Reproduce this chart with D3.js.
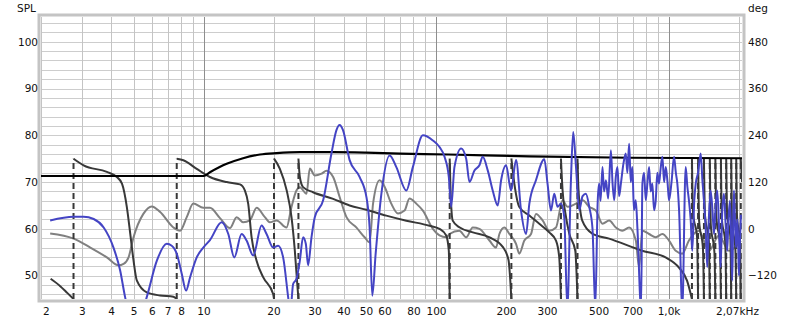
<!DOCTYPE html>
<html>
<head>
<meta charset="utf-8">
<script src="https://cdn.jsdelivr.net/npm/d3@7"></script>
<style>
body { margin: 0; background: #fff; }
svg text { font-family: "DejaVu Sans", sans-serif; font-size: 10.5px; fill: #111; }
</style>
</head>
<body>
<svg id="chart" width="800" height="322"></svg>
<script>
// -- data: [frequency Hz, value] -- //
let targetSpl = [[2, 71.3], [10, 71.3], [10.66, 72.1], [12.58, 73.9], [14.8, 75.1], [17.5, 75.9], [20.6, 76.2],
    [26, 76.4], [36, 76.4], [50, 76.3], [70, 76.1], [113, 75.9], [252, 75.5], [677, 75.2], [2070, 75.1]];

let measuredSpl = [[2.19, 61.8], [2.76, 62.6], [3.05, 62.6], [3.37, 62.1], [3.72, 60.3], [4.10, 56.0], [4.38, 51.1],
    [4.60, 45.4], [5.1, 38], [5.70, 45.4], [6.30, 53.2], [6.95, 56.8], [7.30, 56.4], [7.67, 54.7], [8.06, 50.4],
    [8.41, 46.8], [8.75, 49.6], [9.35, 53.9], [9.98, 56.0], [10.66, 57.6], [11.97, 61.4], [12.78, 58.9], [13.56, 53.9],
    [14.58, 58.9], [15.32, 57.5], [16.36, 54.3], [17.77, 60.7], [18.67, 58.9], [19.93, 56.0], [20.94, 56.4],
    [22.0, 53.9], [23.12, 45.4], [23.6, 42], [24.29, 48.2], [25.1, 49.3], [25.96, 53.2], [26.8, 58.2], [27.54, 56.8],
    [28.17, 52.2], [29.13, 58.2], [30.1, 62.5], [32.7, 66.1], [35.5, 76.1], [37.3, 81.1], [38.5, 82.2], [39.8, 81.1],
    [42.5, 74.7], [46.9, 71.1], [50.2, 66.8], [51.8, 60.3], [53.2, 45.7], [55.0, 54.7], [58.2, 67.5], [63.2, 75.7],
    [67.5, 73.2], [74.5, 68.2], [79.5, 73.2], [87.8, 80.0], [96.9, 78.9], [103.5, 77.5], [108.8, 75.4], [113.5, 71.1],
    [116.2, 64.7], [120, 73.2], [128.3, 77.2], [134.8, 75.0], [139.3, 70.0], [146.3, 72.5], [153.7, 73.6],
    [158.8, 75.4], [166.9, 72.5], [175.3, 68.2], [184.2, 65.0], [190.5, 70.4], [200.1, 73.6], [210.2, 68.2],
    [220.9, 74.7], [232.1, 63.9], [243.9, 58.9], [252, 65.4], [269, 70.4], [292.2, 74.9], [301.8, 69.6],
    [312.1, 63.9], [322.5, 67.5], [333.2, 64.7], [344.6, 65.4], [356, 62.5], [367, 43], [380, 69.7], [389, 80.7],
    [400, 73.2], [413, 64], [427, 67], [441, 67.5], [456, 64.7], [471, 60], [484, 43], [496, 66], [503, 69.7],
    [510, 66], [520, 73.2], [528, 68], [538, 70.4], [550, 66.5], [565, 76.8], [574, 70], [584, 66.1], [593, 71],
    [603, 73.2], [613, 67], [624, 69.7], [640, 74], [655, 76.1], [665, 72], [677, 78.2], [688, 70], [699, 73.2],
    [710, 64], [723, 66.1], [735, 60], [762, 43], [772, 69.7], [785, 72], [798, 66.1], [812, 70], [825, 73.2],
    [838, 68], [852, 69.7], [866, 64], [881, 66.1], [895, 72], [910, 69.7], [925, 73], [941, 75.4], [957, 70],
    [973, 73.2], [990, 70], [1005, 66.1], [1030, 70], [1056, 75.4], [1075, 72], [1091, 69.7], [1110, 64],
    [1146, 43], [1185, 73.2], [1205, 69], [1224, 66.1], [1245, 62], [1265, 55.3], [1290, 66], [1309, 69.7],
    [1340, 72], [1375, 76.1], [1400, 70], [1420, 66.1], [1445, 60], [1467, 51.8], [1490, 62], [1517, 68.2],
    [1545, 64], [1568, 58.9], [1595, 65], [1620, 68.2], [1650, 60], [1675, 51.8], [1700, 63], [1731, 67.5],
    [1760, 61], [1788, 55.3], [1810, 62], [1837, 66], [1860, 58], [1879, 48.9], [1895, 60], [1911, 68.2],
    [1930, 62], [1950, 56], [1965, 60], [1978, 62], [1993, 57], [2008, 50], [2030, 58], [2048, 63]];

let secondSpl = [[2.19, 59.0], [2.76, 57.9], [3.26, 56.0], [3.84, 53.9], [4.31, 52.2], [4.53, 52.5], [4.76, 53.9],
    [5.0, 58.2], [5.51, 63.2], [5.99, 64.8], [6.51, 63.6], [7.42, 60.3], [7.93, 59.6], [8.47, 62.5], [9.04, 65.4],
    [9.98, 64.5], [10.66, 64.5], [11.77, 62.3], [13.0, 60.2], [13.88, 62.5], [14.82, 61.4], [15.83, 61.8],
    [16.92, 64.5], [18.36, 62.5], [19.29, 61.4], [20.62, 61.8], [22.76, 60.3], [23.9, 64.7], [25.1, 68.2],
    [25.96, 68.9], [27.73, 67.5], [28.65, 72.9], [30.1, 71.4], [32.2, 71.8], [33.8, 72.4], [36.1, 71.1],
    [38.5, 66.8], [41.2, 62.5], [45.4, 60.3], [49.3, 58.2], [51.8, 57.1], [53.6, 65.4], [57.2, 70.4], [60.1, 69.0],
    [64.2, 65.4], [68.6, 63.3], [73.2, 63.9], [76.9, 66.5], [82.2, 65.4], [87.8, 63.9], [96.9, 60.0], [103.5, 58.6],
    [110.6, 58.2], [114.3, 58.9], [126, 59.6], [134.8, 58.2], [143.9, 60.3], [153.7, 60.0], [169.7, 57.5],
    [181.3, 56.0], [187.3, 58.9], [196.8, 60.3], [206.8, 58.9], [220.9, 56.8], [228.2, 54.7], [239.8, 57.5],
    [256.2, 58.9], [269, 63.2], [287.3, 61.8], [306.9, 59.6], [328.1, 60.3], [350.1, 66.1], [367.9, 64.7],
    [399.6, 65.4], [427.3, 66.1], [455.9, 64.7], [487.1, 63.9], [519.8, 61.1], [555.3, 61.8], [593.3, 60.3],
    [633.4, 59.6], [677, 60.3], [723.3, 57.5], [747, 51.8], [772, 59.6], [824.8, 58.9], [881.2, 58.2],
    [940.6, 58.9], [1005, 57.5], [1074, 55.3], [1146, 54.7], [1224, 57.5], [1352, 59.6], [1492, 55.3],
    [1647, 58.6], [1818, 55.3], [2048, 57.5]];

let phaseDeg = [[2.2, -128], [2.42, -147], [2.6, -165], [2.76, -180], [2.76, 180], [3.05, 163], [3.84, 146],
    [4.24, 133], [4.46, 116], [4.68, 56], [4.84, -12], [5.0, -81], [5.17, -133], [5.7, -163], [6.5, -171],
    [7.42, -174], [7.67, -180], [7.67, 180], [8.19, 176], [9.35, 154], [10.66, 133], [12.58, 120], [14.35, 114],
    [15.07, 98], [15.57, 64], [16.1, -22], [16.9, -81], [18.05, -124], [19.93, -167], [20.1, -180], [20.1, 180],
    [21.3, 154], [22.8, 98], [23.9, 30], [24.7, -56], [25.3, -141], [25.6, -180], [25.6, 180], [25.96, 133],
    [26.8, 107], [29.6, 94], [36.1, 77], [42.5, 60], [50.2, 49], [61.1, 34], [74.5, 21], [93.8, 8], [103.5, 0],
    [110.6, -17], [113.5, -56], [114.5, -180], [114.5, 180], [115.3, 110], [116.2, 60], [118, 21], [126, 4],
    [144, -9], [170, -22], [194, -47], [205, -80], [208, -120], [210.9, -180], [210.9, 180], [217.2, 116],
    [228.2, 56], [252, 34], [278.1, 13], [306.9, -9], [328.1, -30], [338.8, -73], [344.6, -180], [344.6, 180],
    [350, 100], [360, 40], [374, -12], [397, -56], [406, -180], [406, 180], [410, 100], [425.6, 21], [469.6, -12],
    [555, -25], [769.5, -56], [975.7, -74], [1109, -99.5], [1201, -133], [1261, -180],
    [1261, 180], [1275, 40], [1326, -20], [1340, -180],
    [1340, 180], [1354, 20], [1406, -50], [1420, -180],
    [1420, 180], [1435, 35], [1490, -30], [1505, -180],
    [1505, 180], [1520, 10], [1575, -60], [1590, -180],
    [1590, 180], [1606, 30], [1664, -40], [1680, -180],
    [1680, 180], [1696, 25], [1754, -35], [1770, -180],
    [1770, 180], [1786, 40], [1844, -20], [1860, -180],
    [1860, 180], [1877, 15], [1938, -50], [1955, -180],
    [1955, 180], [1971, 30], [2029, -30], [2045, -180],
    [2045, 180], [2070, 120]];

let xTickValues = [2, 3, 4, 5, 6, 7, 8, 10, 20, 30, 40, 50, 60, 80, 100, 200, 300, 500, 700, 1000, 2070];
let xTickLabels = ["2", "3", "4", "5", "6", "7", "8", "10", "20", "30", "40", "50", "60", "80", "100", "200",
    "300", "500", "700", "1,0k", "2,07kHz"];
let splTicks = [50, 60, 70, 80, 90, 100];
let degTicks = [-120, 0, 120, 240, 360, 480];
let xGridValues = [2, 3, 4, 5, 6, 7, 8, 9, 20, 30, 40, 50, 60, 70, 80, 90, 200, 300, 400, 500, 600, 700, 800, 900, 2000];
let xDecades = [10, 100, 1000];

// -- layout -- //
let plotLeft = 41, plotRight = 742, plotTop = 17, plotBottom = 299;
let svg = d3.select("#chart");

let xScale = d3.scaleLog().domain([2, 2070]).range([plotLeft, plotRight]);
let yScale = d3.scaleLinear().domain([45, 105.3]).range([plotBottom, plotTop]);
let degScale = d3.scaleLinear().domain([-180, 543.6]).range([plotBottom, plotTop]);

svg.append("rect").attr("width", 800).attr("height", 322).attr("fill", "#fff");

// -- plot frame with shadow -- //
svg.append("rect")
    .attr("x", plotLeft - 2).attr("y", plotTop - 2)
    .attr("width", plotRight - plotLeft + 4).attr("height", plotBottom - plotTop + 4)
    .attr("fill", "none").attr("stroke", "#c4c4c4").attr("stroke-width", 3);
svg.append("rect")
    .attr("x", plotLeft).attr("y", plotTop)
    .attr("width", plotRight - plotLeft).attr("height", plotBottom - plotTop)
    .attr("fill", "#fff");

// -- grid -- //
let grid = svg.append("g");
grid.selectAll(".hgrid")
    .data(d3.range(46, 105, 2))
    .enter().append("line")
    .attr("x1", plotLeft).attr("x2", plotRight)
    .attr("y1", d => Math.round(yScale(d)) + 0.5).attr("y2", d => Math.round(yScale(d)) + 0.5)
    .style("stroke", "#cdcdcd").style("stroke-width", 1);
grid.selectAll(".vgrid")
    .data(xGridValues)
    .enter().append("line")
    .attr("x1", d => Math.round(xScale(d)) + 0.5).attr("x2", d => Math.round(xScale(d)) + 0.5)
    .attr("y1", plotTop).attr("y2", plotBottom)
    .style("stroke", "#c4c4c4").style("stroke-width", 1);
grid.selectAll(".dgrid")
    .data(xDecades)
    .enter().append("line")
    .attr("x1", d => Math.round(xScale(d)) + 0.5).attr("x2", d => Math.round(xScale(d)) + 0.5)
    .attr("y1", plotTop).attr("y2", plotBottom)
    .style("stroke", "#8e8e8e").style("stroke-width", 1);

// -- curves -- //
svg.append("clipPath").attr("id", "clip")
    .append("rect").attr("x", plotLeft).attr("y", plotTop)
    .attr("width", plotRight - plotLeft).attr("height", plotBottom - plotTop);
let plot = svg.append("g").attr("clip-path", "url(#clip)");

let splLine = d3.line()
    .x(d => xScale(d[0]))
    .y(d => yScale(d[1]))
    .curve(d3.curveMonotoneX);
let phaseLine = d3.line()
    .x(d => xScale(d[0]))
    .y(d => degScale(d[1]))
    .curve(d3.curveMonotoneX);

// split the wrapped phase where it jumps from -180 to +180
let phaseSegments = [[]];
let wrapLines = [];
phaseDeg.forEach((d, i) => {
    if (i > 0 && Math.abs(d[1] - phaseDeg[i - 1][1]) > 300) {
        wrapLines.push([phaseDeg[i - 1], d]);
        phaseSegments.push([]);
    }
    phaseSegments[phaseSegments.length - 1].push(d);
});

plot.append("path")
    .datum(secondSpl)
    .attr("d", splLine)
    .style("fill", "none").style("stroke", "#808080").style("stroke-width", 2);

plot.selectAll(".phase")
    .data(phaseSegments)
    .enter().append("path")
    .attr("d", phaseLine)
    .style("fill", "none").style("stroke", "#383838").style("stroke-width", 2);

plot.selectAll(".wrap")
    .data(wrapLines)
    .enter().append("line")
    .attr("x1", d => xScale(d[0][0])).attr("x2", d => xScale(d[1][0]))
    .attr("y1", d => degScale(d[0][1])).attr("y2", d => degScale(d[1][1]))
    .style("stroke", "#383838").style("stroke-width", 2).style("stroke-dasharray", "6,4");

plot.append("path")
    .datum(targetSpl)
    .attr("d", splLine)
    .style("fill", "none").style("stroke", "#000").style("stroke-width", 2.2);

plot.append("path")
    .datum(measuredSpl)
    .attr("d", splLine)
    .style("fill", "none").style("stroke", "#4444c4").style("stroke-width", 2);

// -- axes -- //
let xAxis = d3.axisBottom(xScale)
    .tickValues(xTickValues)
    .tickFormat((d, i) => xTickLabels[i])
    .tickSize(0).tickPadding(8.5);
let xg = svg.append("g").attr("transform", `translate(0, ${plotBottom})`).call(xAxis);
xg.select(".domain").remove();
xg.selectAll("text").attr("fill", "#111").style("font-family", "DejaVu Sans").style("font-size", "10.5px");
xg.selectAll(".tick").filter(d => d === 2).select("text").attr("text-anchor", "start").attr("x", 1.5);
xg.selectAll(".tick").filter(d => d === 2070).select("text").attr("x", -5);

let yg = svg.append("g").attr("transform", `translate(${plotLeft}, 0)`)
    .call(d3.axisLeft(yScale).tickValues(splTicks).tickSize(0).tickPadding(3));
yg.select(".domain").remove();
yg.selectAll("text").attr("fill", "#111").style("font-family", "DejaVu Sans").style("font-size", "10.5px");

let dg = svg.append("g").attr("transform", `translate(${plotRight}, 0)`)
    .call(d3.axisRight(degScale).tickValues(degTicks).tickSize(0).tickPadding(6));
dg.select(".domain").remove();
dg.selectAll("text").attr("fill", "#111").style("font-family", "DejaVu Sans").style("font-size", "10.5px");

// -- axis titles -- //
svg.append("text").attr("x", 17).attr("y", 11.5).text("SPL");
svg.append("text").attr("x", 748).attr("y", 11.5).text("deg");
</script>
</body>
</html>
